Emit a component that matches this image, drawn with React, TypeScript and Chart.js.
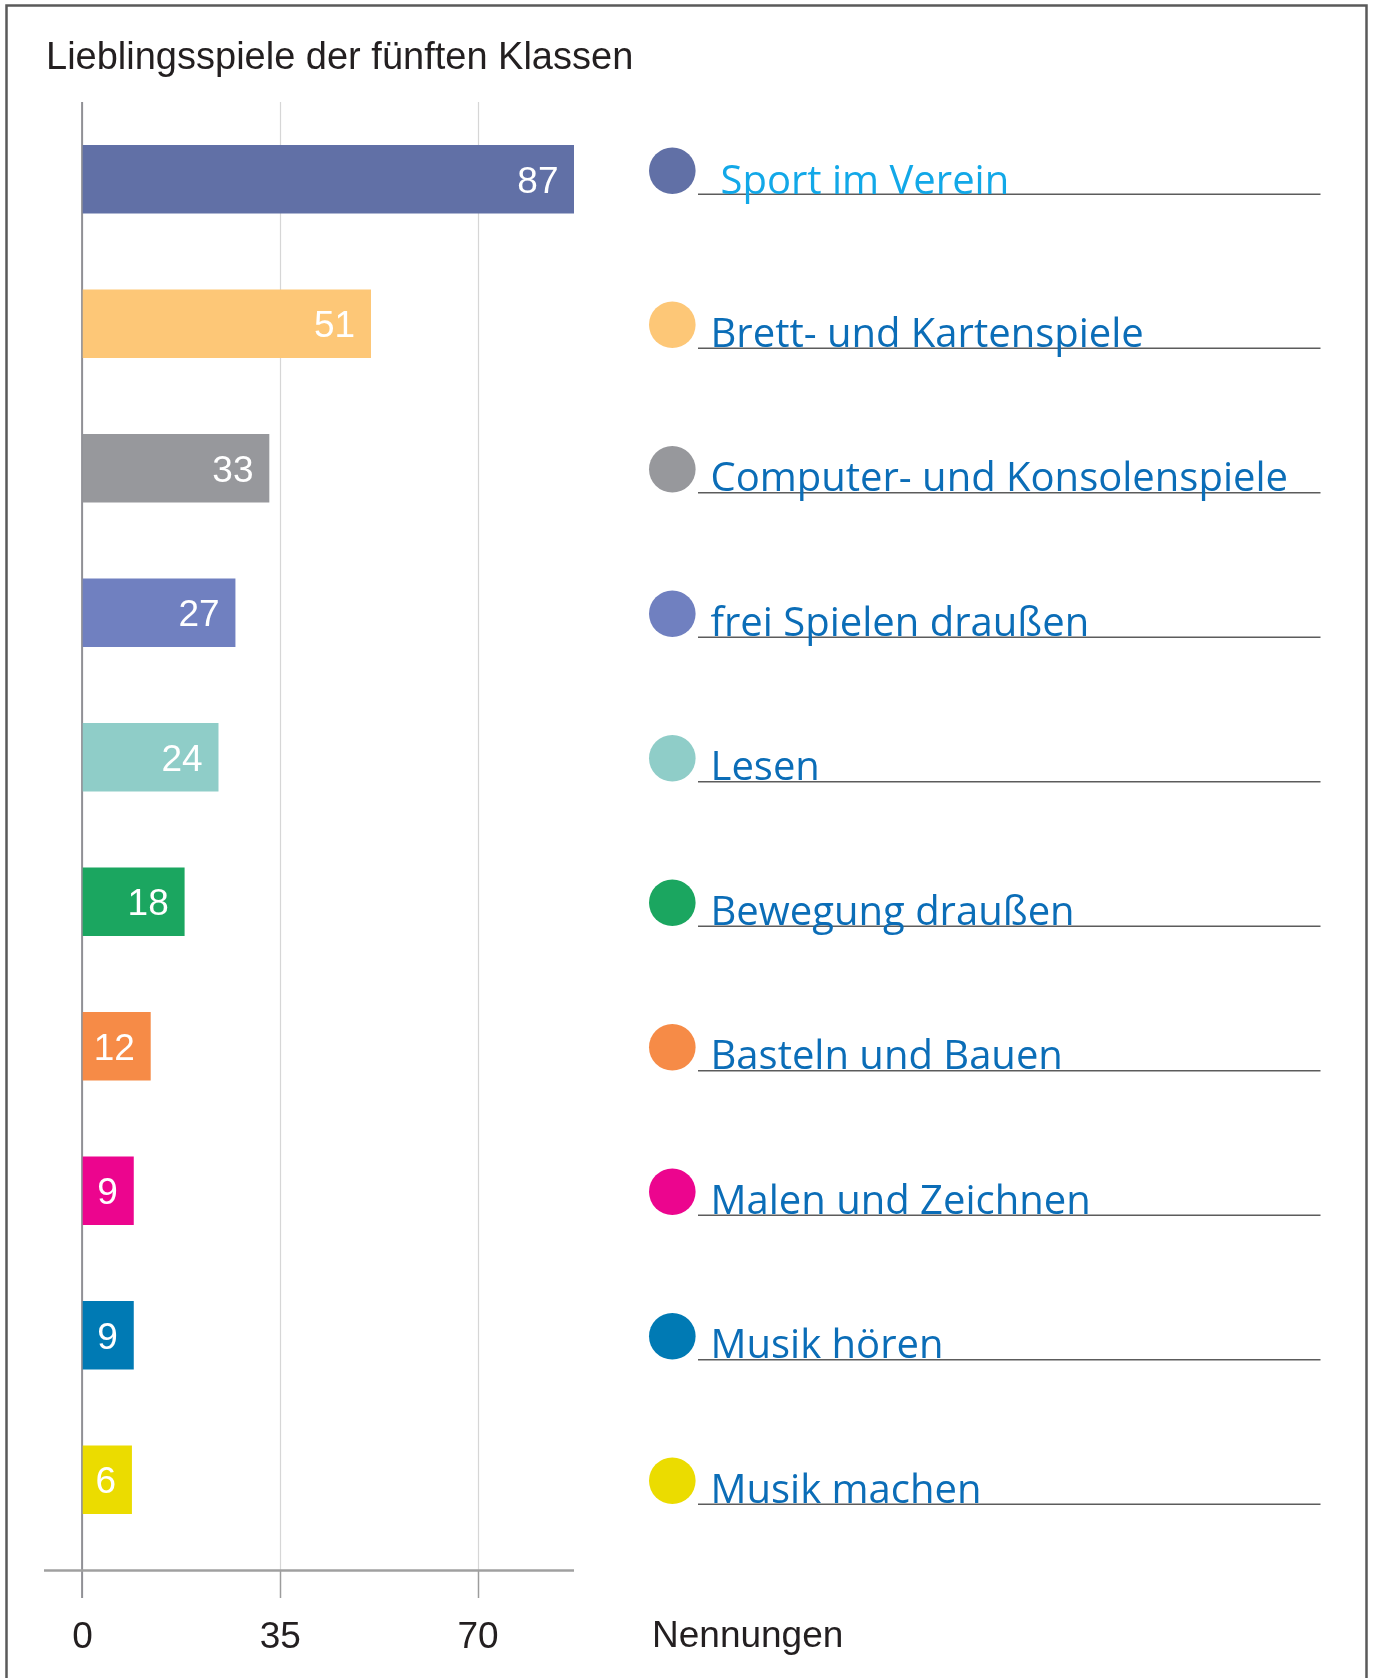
import React, { useEffect, useRef } from "react";
import { Chart, registerables } from "chart.js";

Chart.register(...registerables);

const chartTitle = "Lieblingsspiele der fünften Klassen";
const valueAxisTitle = "Nennungen";
const categories = [
  "Sport im Verein",
  "Brett- und Kartenspiele",
  "Computer- und Konsolenspiele",
  "frei Spielen draußen",
  "Lesen",
  "Bewegung draußen",
  "Basteln und Bauen",
  "Malen und Zeichnen",
  "Musik hören",
  "Musik machen",
];
const mentions = [87, 51, 33, 27, 24, 18, 12, 9, 9, 6];
const barColors = [
  "#6170a6",
  "#fdc777",
  "#97989c",
  "#7080c0",
  "#8fcdc8",
  "#1ba660",
  "#f68b47",
  "#ec058e",
  "#007ab4",
  "#ebdc00",
];
const xTickValues = [0, 35, 70];
const xMax = 87;

const SANS = '"Liberation Sans", Arial, Helvetica, sans-serif';
const HAND = '"Open Sans", "Noto Sans", sans-serif';

const decorPlugin = {
  id: "decor",
  beforeDraw(chart: any) {
    const ctx: CanvasRenderingContext2D = chart.ctx;
    const xs = chart.scales.x;
    const ys = chart.scales.y;
    ctx.save();
    ctx.fillStyle = "#ffffff";
    ctx.fillRect(0, 0, chart.width, chart.height);

    // frame
    ctx.strokeStyle = "#5a5a5a";
    ctx.lineWidth = 2.5;
    ctx.beginPath();
    ctx.moveTo(6.5, chart.height + 10);
    ctx.lineTo(6.5, 5.5);
    ctx.lineTo(1366.5, 5.5);
    ctx.lineTo(1366.5, chart.height + 10);
    ctx.stroke();

    // titles
    ctx.fillStyle = "#231f20";
    ctx.textAlign = "left";
    ctx.textBaseline = "alphabetic";
    ctx.font = "38px " + SANS;
    ctx.fillText(chartTitle, 46, 69);
    ctx.font = "37px " + SANS;
    ctx.fillText(valueAxisTitle, 652, 1647);

    // grid + axis
    const gridTop = 102;
    const axisY = 1570.5;
    const tickEnd = 1598;
    xs.ticks.forEach((t: any) => {
      const px = Math.round(xs.getPixelForValue(t.value)) + 0.5;
      if (t.value !== 0) {
        ctx.strokeStyle = "#d6d6d6";
        ctx.lineWidth = 1.2;
        ctx.beginPath();
        ctx.moveTo(px, gridTop);
        ctx.lineTo(px, axisY);
        ctx.stroke();
        ctx.strokeStyle = "#9c9c9c";
        ctx.lineWidth = 1.5;
        ctx.beginPath();
        ctx.moveTo(px, axisY);
        ctx.lineTo(px, tickEnd);
        ctx.stroke();
      }
    });
    const x0 = xs.getPixelForValue(0) - 0.5;
    ctx.strokeStyle = "#909095";
    ctx.lineWidth = 2;
    ctx.beginPath();
    ctx.moveTo(x0, gridTop);
    ctx.lineTo(x0, tickEnd);
    ctx.stroke();
    ctx.strokeStyle = "#a0a0a0";
    ctx.lineWidth = 2.5;
    ctx.beginPath();
    ctx.moveTo(44, axisY);
    ctx.lineTo(xs.getPixelForValue(xMax), axisY);
    ctx.stroke();

    // legend rows
    categories.forEach((name, i) => {
      const cy = ys.getPixelForValue(i);
      const shift = i === 0 ? -9.5 : 0;
      const lineY = cy + 24.5 + shift;
      ctx.fillStyle = barColors[i];
      ctx.beginPath();
      ctx.arc(672.3, cy + 1 + shift, 23.3, 0, Math.PI * 2);
      ctx.fill();
      ctx.strokeStyle = "#5c5c5c";
      ctx.lineWidth = 1.6;
      ctx.beginPath();
      ctx.moveTo(698, lineY);
      ctx.lineTo(1320.5, lineY);
      ctx.stroke();
      ctx.fillStyle = i === 0 ? "#12a8e8" : "#0b6db7";
      ctx.font = "40px " + HAND;
      ctx.textAlign = "left";
      ctx.textBaseline = "alphabetic";
      ctx.fillText(name, i === 0 ? 720.5 : 710.5, lineY - (i === 0 ? 0 : 1.5));
    });
    ctx.restore();
  },
  afterDatasetsDraw(chart: any) {
    const ctx: CanvasRenderingContext2D = chart.ctx;
    const meta = chart.getDatasetMeta(0);
    ctx.save();
    ctx.fillStyle = "#ffffff";
    ctx.font = "37px " + SANS;
    ctx.textAlign = "right";
    ctx.textBaseline = "alphabetic";
    meta.data.forEach((el: any, i: number) => {
      ctx.fillText(String(mentions[i]), el.x - 15.5, el.y + 13.5);
    });
    ctx.restore();
  },
};

export default function App() {
  const ref = useRef<HTMLCanvasElement | null>(null);
  useEffect(() => {
    document.body.style.margin = "0";
    const canvas = ref.current;
    if (!canvas) return;
    const chart = new Chart(canvas, {
      type: "bar",
      data: {
        labels: categories,
        datasets: [
          {
            data: mentions,
            backgroundColor: barColors,
            borderWidth: 0,
            barThickness: 68,
            minBarLength: 49,
          },
        ],
      },
      options: {
        indexAxis: "y",
        responsive: false,
        maintainAspectRatio: false,
        animation: false,
        devicePixelRatio: 1,
        layout: { padding: { left: 82.6, top: 107, right: 799, bottom: 0 } },
        plugins: {
          legend: { display: false },
          tooltip: { enabled: false },
          title: { display: false },
        },
        scales: {
          x: {
            type: "linear",
            min: 0,
            max: xMax,
            afterBuildTicks: (scale: any) => {
              scale.ticks = xTickValues.map((v) => ({ value: v }));
            },
            afterFit: (scale: any) => {
              scale.height = 126;
            },
            ticks: {
              includeBounds: false,
              autoSkip: false,
              maxRotation: 0,
              padding: 64,
              color: "#231f20",
              font: { family: SANS, size: 37 },
            },
            grid: { display: false, drawTicks: false },
            border: { display: false },
          },
          y: {
            type: "category",
            display: false,
            offset: true,
            grid: { display: false },
          },
        },
      },
      plugins: [decorPlugin],
    } as any);
    return () => chart.destroy();
  }, []);
  return (
    <canvas
      ref={ref}
      width={1373}
      height={1678}
      style={{ display: "block", width: 1373, height: 1678 }}
    />
  );
}
